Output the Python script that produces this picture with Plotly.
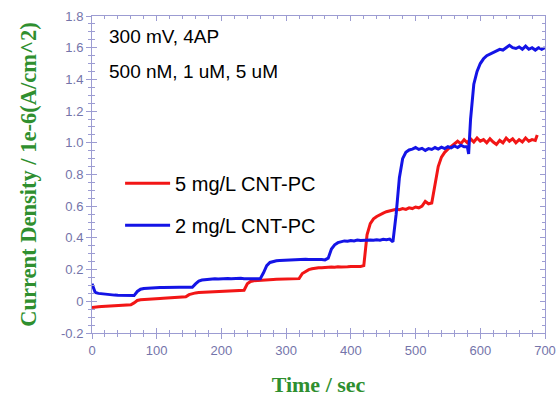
import plotly.graph_objects as go

# ---- data ----
blue_t = [0, 5, 10, 15, 20, 25, 30, 35, 40, 45, 50, 55, 60, 65, 70, 75, 80, 85, 90, 95,
          100, 105, 110, 115, 120, 125, 130, 135, 140, 145, 150, 155, 160, 165, 170, 175, 180, 185, 190, 195,
          200, 205, 210, 215, 220, 225, 230, 235, 240, 245, 250, 255, 260, 265, 270, 275, 280, 285, 290, 295,
          300, 305, 310, 315, 320, 325, 330, 335, 340, 345, 350, 355, 360, 365, 370, 375, 380, 385, 390, 395,
          400, 405, 410, 415, 420, 425, 430, 435, 440, 445, 450, 455, 460, 465, 470, 475, 480, 485, 490, 495,
          500, 505, 510, 515, 520, 525, 530, 535, 540, 545, 550, 555, 560, 565, 570, 575, 580, 582, 585, 590, 595,
          600, 605, 610, 615, 620, 625, 630, 635, 640, 645, 650, 655, 660, 665, 670, 675, 680, 685, 690, 695, 700]
blue_v = [0.11, 0.055, 0.05, 0.047, 0.045, 0.043, 0.041, 0.039, 0.038, 0.037, 0.036, 0.035, 0.034, 0.036, 0.062, 0.076, 0.081, 0.083, 0.085, 0.085,
          0.086, 0.087, 0.087, 0.088, 0.088, 0.089, 0.088, 0.089, 0.088, 0.087, 0.086, 0.088, 0.11, 0.128, 0.134, 0.137, 0.139, 0.14, 0.142, 0.141,
          0.143, 0.142, 0.144, 0.143, 0.145, 0.144, 0.145, 0.143, 0.142, 0.141, 0.14, 0.139, 0.142, 0.18, 0.225, 0.245, 0.252, 0.256, 0.258, 0.259,
          0.261, 0.26, 0.263, 0.261, 0.263, 0.262, 0.265, 0.263, 0.264, 0.262, 0.265, 0.263, 0.261, 0.272, 0.33, 0.356, 0.37, 0.376, 0.381, 0.379,
          0.384, 0.381, 0.386, 0.383, 0.385, 0.384, 0.387, 0.385, 0.388, 0.386, 0.391, 0.389, 0.393, 0.375, 0.55, 0.78, 0.9, 0.94, 0.955, 0.96,
          0.97, 0.958, 0.965, 0.952, 0.963, 0.958, 0.97, 0.96, 0.972, 0.963, 0.975, 0.968, 0.98, 0.97, 0.985, 0.975, 0.975, 0.93, 1.15, 1.37, 1.45,
          1.5, 1.53, 1.55, 1.56, 1.575, 1.58, 1.59, 1.585, 1.6, 1.615, 1.6, 1.595, 1.605, 1.59, 1.61, 1.59, 1.6, 1.585, 1.6, 1.59, 1.6]

red_t = [0, 5, 10, 15, 20, 25, 30, 35, 40, 45, 50, 55, 60, 65, 70, 75, 80, 85, 90, 95,
         100, 105, 110, 115, 120, 125, 130, 135, 140, 145, 150, 155, 160, 165, 170, 175, 180, 185, 190, 195,
         200, 205, 210, 215, 220, 225, 230, 235, 240, 245, 250, 255, 260, 265, 270, 275, 280, 285, 290, 295,
         300, 305, 310, 315, 320, 325, 330, 335, 340, 345, 350, 355, 360, 365, 370, 375, 380, 385, 390, 395,
         400, 405, 410, 415, 420, 425, 430, 435, 440, 445, 450, 455, 460, 465, 470, 475, 480, 485, 490, 495,
         500, 505, 510, 515, 520, 525, 530, 535, 540, 545, 550, 555, 560, 565, 570, 575, 580, 585, 590, 595,
         600, 605, 610, 615, 620, 625, 630, 635, 640, 645, 650, 655, 660, 665, 670, 675, 680, 685, 688]
red_v = [-0.04, -0.035, -0.034, -0.033, -0.032, -0.032, -0.031, -0.03, -0.03, -0.029, -0.028, -0.027, -0.022, -0.01, 0.005, 0.01, 0.012, 0.014, 0.015, 0.016,
         0.017, 0.018, 0.019, 0.02, 0.02, 0.021, 0.022, 0.022, 0.023, 0.028, 0.042, 0.05, 0.053, 0.055, 0.056, 0.057, 0.058, 0.059, 0.06, 0.06,
         0.061, 0.062, 0.062, 0.063, 0.063, 0.064, 0.065, 0.07, 0.11, 0.125, 0.13, 0.132, 0.134, 0.135, 0.136, 0.137, 0.138, 0.139, 0.14, 0.14,
         0.141, 0.142, 0.141, 0.142, 0.143, 0.175, 0.19, 0.2, 0.205, 0.21, 0.212, 0.211, 0.214, 0.213, 0.216, 0.215, 0.218, 0.216, 0.219, 0.218,
         0.22, 0.219, 0.221, 0.22, 0.225, 0.42, 0.49, 0.52, 0.535, 0.548, 0.556, 0.565, 0.57, 0.575, 0.58, 0.578, 0.585, 0.58, 0.59, 0.585,
         0.595, 0.59, 0.6, 0.63, 0.615, 0.62, 0.75, 0.85, 0.91, 0.94, 0.96, 0.975, 0.99, 1.01, 0.995, 1.02, 1.0, 1.025, 1.005, 1.03,
         1.01, 1.02, 1.0, 1.025, 1.005, 0.99, 1.015, 1.0, 1.03, 1.01, 1.025, 1.0, 1.02, 1.005, 1.03, 1.01, 1.02, 1.015, 1.05]

series_names = ["5 mg/L CNT-PC", "2 mg/L CNT-PC"]
x_tickvals = [0, 100, 200, 300, 400, 500, 600, 700]
x_ticktext = ["0", "100", "200", "300", "400", "500", "600", "700"]
y_tickvals = [-0.2, 0, 0.2, 0.4, 0.6, 0.8, 1.0, 1.2, 1.4, 1.6, 1.8]
y_ticktext = ["-0.2", "0", "0.2", "0.4", "0.6", "0.8", "1.0", "1.2", "1.4", "1.6", "1.8"]
notes = ["300 mV, 4AP", "500 nM, 1 uM, 5 uM"]

AX = "#9c9cd2"
TICKC = "#7474aa"
GREEN = "#2f8f2f"
SERIF = "Times New Roman, Liberation Serif, serif"
SANS = "Arial, Liberation Sans, sans-serif"

fig = go.Figure()
fig.add_trace(go.Scatter(x=red_t, y=red_v, mode="lines", name=series_names[0],
                         line=dict(color="#f21616", width=3), legendgroup="a"))
fig.add_trace(go.Scatter(x=blue_t, y=blue_v, mode="lines", name=series_names[1],
                         line=dict(color="#1414e6", width=3), legendgroup="b"))
# dummy trace for the overlay (inside-tick) axes
fig.add_trace(go.Scatter(x=[None], y=[None], xaxis="x2", yaxis="y2", showlegend=False, hoverinfo="skip"))

tickfont = dict(family=SANS, size=13, color=TICKC)
fig.update_layout(
    width=558, height=402,
    margin=dict(l=92, r=13, t=16, b=69),
    plot_bgcolor="white", paper_bgcolor="white",
    showlegend=True,
    legend=dict(x=0.062, y=0.534, xanchor="left", yanchor="top",
                font=dict(family=SANS, size=20, color="black"),
                bgcolor="rgba(0,0,0,0)", traceorder="grouped", tracegroupgap=13, itemwidth=45),
    xaxis=dict(range=[0, 700], tickvals=x_tickvals, ticktext=x_ticktext, ticks="outside", ticklen=5,
               tickcolor=AX, showline=True, linecolor=AX, linewidth=1, showgrid=False, zeroline=False,
               tickfont=tickfont, automargin=False,
               minor=dict(dtick=20, ticks="outside", ticklen=3, tickcolor=AX, showgrid=False),
               title=dict(text="Time / sec", font=dict(family=SERIF, size=22, color=GREEN, weight="bold"),
                          standoff=20)),
    yaxis=dict(range=[-0.2, 1.8], tickvals=y_tickvals, ticktext=y_ticktext, ticks="outside", ticklen=5,
               tickcolor=AX, showline=True, linecolor=AX, linewidth=1, showgrid=False, zeroline=False,
               tickfont=tickfont, automargin=False,
               minor=dict(dtick=0.05, tick0=-0.2, ticks="outside", ticklen=3, tickcolor=AX, showgrid=False),
               title=dict(text="Current Density / 1e-6(A/cm^2)",
                          font=dict(family=SERIF, size=22.5, color=GREEN, weight="bold"),
                          standoff=18)),
    xaxis2=dict(range=[0, 700], overlaying="x", anchor="y2", side="bottom", tickvals=x_tickvals,
                ticks="inside", ticklen=5, tickcolor=AX, showticklabels=False, showline=True, linecolor=AX,
                mirror="ticks", showgrid=False, zeroline=False, automargin=False,
                minor=dict(dtick=20, ticks="inside", ticklen=3, tickcolor=AX, showgrid=False)),
    yaxis2=dict(range=[-0.2, 1.8], overlaying="y", anchor="x2", side="left", tickvals=y_tickvals,
                ticks="inside", ticklen=5, tickcolor=AX, showticklabels=False, showline=True, linecolor=AX,
                mirror="ticks", showgrid=False, zeroline=False, automargin=False,
                minor=dict(dtick=0.05, tick0=-0.2, ticks="inside", ticklen=3, tickcolor=AX, showgrid=False)),
)

for txt, yp in zip(notes, [0.936, 0.824]):
    fig.add_annotation(text=txt, xref="paper", yref="paper", x=0.033, y=yp, xanchor="left", yanchor="middle",
                       showarrow=False, font=dict(family=SANS, size=19, color="black"))

fig.write_html("out.html")
